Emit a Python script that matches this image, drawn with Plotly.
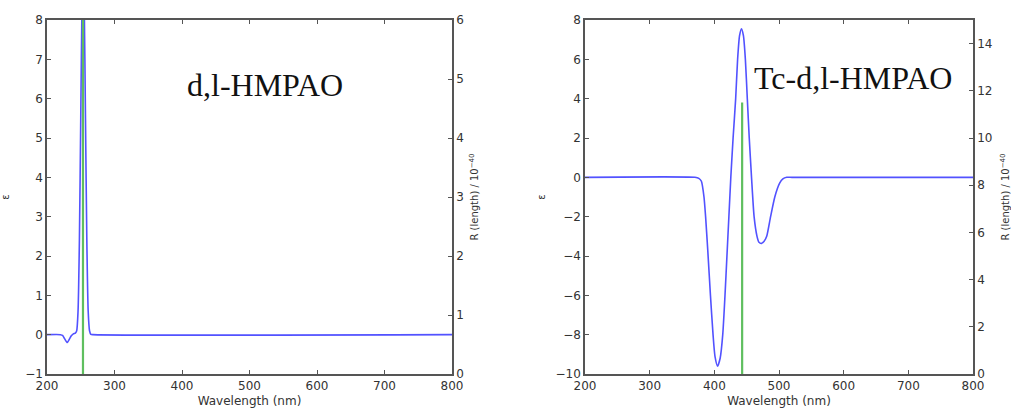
import plotly.graph_objects as go
from plotly.subplots import make_subplots

# ---- data ----
# d,l-HMPAO: calculated ECD spectrum (epsilon) and rotatory strengths (sticks)
wl_free = [200, 220, 223, 226, 230, 233, 236, 239, 242, 244, 246, 248, 250, 252,
           253.5, 255, 257, 259, 261, 263, 265, 268, 800]
eps_free = [0, 0, -0.02, -0.1, -0.2, -0.12, -0.03, 0.02, 0.04, 0.1, 0.6, 2.4, 5.5,
            8.6, 9.5, 8.6, 5.5, 2.4, 0.6, 0.1, 0.01, 0, 0]
stick_free_wl = [253.3]
stick_free_R = [6.6]

# Tc-d,l-HMPAO
wl_tc = [200, 370, 376, 380, 384, 386.5, 390, 394, 398, 401, 405, 409, 413, 416.5,
         419.5, 422.5, 425.5, 429, 433, 436, 439, 442, 445, 448, 451, 454, 457.5,
         461.5, 466, 469, 473, 477, 481, 487, 493.5, 501, 506, 512, 520, 800]
eps_tc = [0, 0, -0.05, -0.2, -1.0, -2.0, -3.8, -6.0, -8.0, -9.1, -9.6, -9.2, -8.0,
          -6.0, -4.0, -2.0, 0, 2.0, 4.0, 6.0, 7.2, 7.55, 7.2, 6.0, 4.0, 2.0, 0,
          -2.0, -3.0, -3.3, -3.36, -3.25, -3.0, -2.0, -1.0, -0.3, -0.08, 0, 0, 0]
stick_tc_wl = [443]
stick_tc_R = [11.5]

x_ticks = [200, 300, 400, 500, 600, 700, 800]
labels = ["d,l-HMPAO", "Tc-d,l-HMPAO"]


def sticks(wls, rs):
    xs, ys = [], []
    for w, r in zip(wls, rs):
        xs += [w, w, None]
        ys += [0, r, None]
    return xs, ys


BLUE = "#5252ff"
GREEN = "#5fbf5f"
AXC = "#555555"
TXT = "#333333"

fig = make_subplots(rows=1, cols=2,
                    specs=[[{"secondary_y": True}, {"secondary_y": True}]])

sx, sy = sticks(stick_free_wl, stick_free_R)
fig.add_trace(go.Scatter(x=sx, y=sy, mode="lines", line=dict(color=GREEN, width=2.2),
                         showlegend=False), row=1, col=1, secondary_y=True)
fig.add_trace(go.Scatter(x=wl_free, y=eps_free, mode="lines",
                         line=dict(color=BLUE, width=1.6, shape="spline", smoothing=0.6),
                         showlegend=False), row=1, col=1, secondary_y=False)

sx, sy = sticks(stick_tc_wl, stick_tc_R)
fig.add_trace(go.Scatter(x=sx, y=sy, mode="lines", line=dict(color=GREEN, width=2.2),
                         showlegend=False), row=1, col=2, secondary_y=True)
fig.add_trace(go.Scatter(x=wl_tc, y=eps_tc, mode="lines",
                         line=dict(color=BLUE, width=1.6, shape="spline", smoothing=0.6),
                         showlegend=False), row=1, col=2, secondary_y=False)

W, H = 1011, 411
tickfont = dict(family="DejaVu Sans", size=12, color=TXT)


def yax(rng, dtick, title, standoff, size=10):
    return dict(range=rng, dtick=dtick, ticks="inside", ticklen=4, tickcolor=AXC,
                showline=True, linecolor=AXC, linewidth=1.5, showgrid=False,
                zeroline=False, tickfont=tickfont, automargin=False,
                title=dict(text=title, font=dict(family="DejaVu Sans", size=size,
                                                 color=TXT), standoff=standoff))


common_x = dict(range=[200, 800], tickvals=x_ticks, ticks="inside", ticklen=4,
                tickcolor=AXC, showline=True, linecolor=AXC, linewidth=1.5,
                mirror="ticks", showgrid=False, zeroline=False, tickfont=tickfont,
                automargin=False,
                title=dict(text="Wavelength (nm)",
                           font=dict(family="DejaVu Sans", size=12, color=TXT),
                           standoff=4))
rtitle = "R (length) / 10<sup>−40</sup>"
fig.update_layout(
    xaxis=dict(domain=[47 / W, 452 / W], **common_x),
    xaxis2=dict(domain=[585 / W, 973 / W], **common_x),
    yaxis=yax([-1, 8], 1, "ε", 14),
    yaxis2=yax([0, 6], 1, rtitle, 8),
    yaxis3=yax([-10, 8], 2, "ε", 8),
    yaxis4=yax([0, 15], 2, rtitle, 14),
    width=W, height=H,
    margin=dict(l=0, r=0, t=20, b=37),
    plot_bgcolor="white", paper_bgcolor="white",
)

fig.add_annotation(x=523, y=6.34, xref="x", yref="y", text=labels[0], showarrow=False,
                   font=dict(family="Liberation Serif", size=32, color="#111111"))
fig.add_annotation(x=615, y=5.06, xref="x2", yref="y3", text=labels[1], showarrow=False,
                   font=dict(family="Liberation Serif", size=32, color="#111111"))

fig.write_html("out.html")
